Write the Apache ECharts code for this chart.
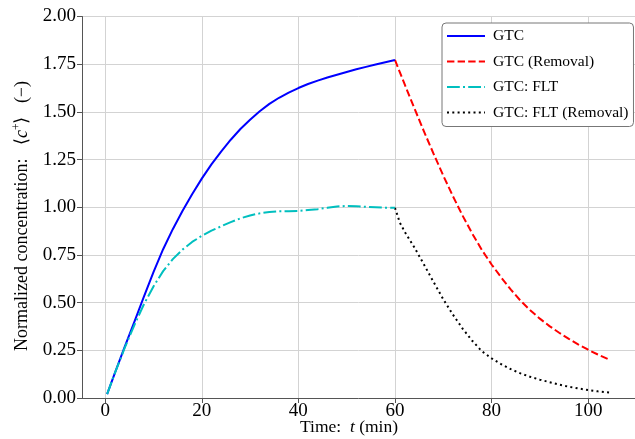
<!DOCTYPE html>
<html>
<head>
<meta charset="utf-8">
<script src="https://cdn.jsdelivr.net/npm/echarts@6/dist/echarts.min.js"></script>
<style>
  html, body { margin: 0; padding: 0; background: #fff; }
  #chart { width: 635px; height: 439px; }
</style>
</head>
<body>
<div id="chart"></div>
<script>
// Loading phase (0–60 min)
const tLoad = [0.4, 2, 4, 6, 8, 10, 12, 14, 16, 18, 20, 22, 24, 26, 28, 30, 32, 34, 36, 38, 40, 42, 44, 46, 48, 50, 52, 54, 56, 58, 60];
const gtc = [0.02, 0.13, 0.265, 0.397, 0.53, 0.66, 0.78, 0.885, 0.98, 1.068, 1.15, 1.225, 1.292, 1.354, 1.41, 1.459, 1.503, 1.542, 1.574, 1.601, 1.625, 1.646, 1.664, 1.68, 1.695, 1.709, 1.723, 1.736, 1.748, 1.76, 1.772];
const gtcFlt = [0.02, 0.13, 0.26, 0.38, 0.49, 0.585, 0.665, 0.728, 0.778, 0.818, 0.85, 0.877, 0.90, 0.922, 0.942, 0.957, 0.968, 0.975, 0.979, 0.979, 0.981, 0.985, 0.99, 0.997, 1.004, 1.007, 1.005, 1.002, 1.0, 0.998, 0.997];

// Removal phase (60–104.5 min)
const tRemoval = [60, 61, 62, 64, 66, 68, 70, 72, 74, 76, 78, 80, 82, 84, 86, 88, 90, 92, 94, 96, 98, 100, 102, 104.5];
const gtcRemoval = [1.772, 1.708, 1.645, 1.52, 1.398, 1.28, 1.166, 1.058, 0.956, 0.862, 0.776, 0.70, 0.632, 0.568, 0.51, 0.46, 0.416, 0.377, 0.342, 0.31, 0.28, 0.253, 0.228, 0.20];
const fltRemoval = [0.997, 0.92, 0.872, 0.79, 0.70, 0.608, 0.518, 0.437, 0.364, 0.30, 0.245, 0.208, 0.177, 0.151, 0.129, 0.111, 0.096, 0.083, 0.07, 0.059, 0.05, 0.042, 0.035, 0.028];

// Axis ticks
const xTicks = [0, 20, 40, 60, 80, 100];
const yTicks = [0, 0.25, 0.5, 0.75, 1.0, 1.25, 1.5, 1.75, 2.0];

const pairs = (xs, ys) => xs.map((x, i) => [x, ys[i]]);

const SERIF = '"Liberation Serif", "Times New Roman", serif';
const AXIS_COLOR = '#555';
const GRID_COLOR = '#d3d3d3';

const chart = echarts.init(document.getElementById('chart'), null, { renderer: 'canvas' });

const lineSeries = (name, xs, ys, color, dash, z) => ({
  name, type: 'line', symbol: 'none', showSymbol: false,
  data: pairs(xs, ys),
  lineStyle: { color, width: 2, type: dash, cap: 'butt', join: 'round' },
  itemStyle: { color },
  emphasis: { disabled: true },
  z
});

chart.setOption({
  animation: false,
  backgroundColor: '#fff',
  grid: { left: 82, right: 0, top: 16.5, bottom: 41, outerBoundsMode: 'none' },
  xAxis: {
    type: 'value',
    min: -4.8,
    max: 109.7,
    minInterval: 20,
    maxInterval: 20,
    axisLine: { onZero: false, lineStyle: { color: AXIS_COLOR, width: 1 } },
    axisTick: { show: true, length: 5, customValues: xTicks, lineStyle: { color: AXIS_COLOR } },
    axisLabel: {
      customValues: xTicks,
      margin: 4, color: '#000', fontFamily: SERIF, fontSize: 19
    },
    splitLine: { show: true, lineStyle: { color: GRID_COLOR, width: 1 } }
  },
  yAxis: {
    type: 'value',
    min: yTicks[0],
    max: yTicks[yTicks.length - 1],
    interval: 0.25,
    axisLine: { show: true, onZero: false, lineStyle: { color: AXIS_COLOR, width: 1 } },
    axisTick: { show: true, length: 5, lineStyle: { color: AXIS_COLOR } },
    axisLabel: {
      margin: 6, color: '#000', fontFamily: SERIF, fontSize: 19,
      formatter: v => v.toFixed(2)
    },
    splitLine: { show: true, lineStyle: { color: GRID_COLOR, width: 1 } }
  },
  legend: {
    orient: 'vertical',
    left: 442,
    top: 23,
    padding: [5, 5, 6, 4],
    itemWidth: 38,
    itemHeight: 14,
    itemGap: 9.5,
    backgroundColor: '#fff',
    borderColor: '#777',
    borderWidth: 1,
    borderRadius: 4,
    itemStyle: { opacity: 0 },
    textStyle: { fontFamily: SERIF, fontSize: 15.5, color: '#000', padding: [0, 0, 0, 3] },
    data: ['GTC', 'GTC (Removal)', 'GTC: FLT', 'GTC: FLT (Removal)']
  },
  graphic: [
    {
      type: 'text',
      x: 349, y: 427,
      style: {
        text: '{n|Time:  }{it|t}{n| (min)}',
        align: 'center', verticalAlign: 'middle',
        fill: '#000',
        rich: {
          n: { fontFamily: SERIF, fontSize: 17.5, fill: '#000' },
          it: { fontFamily: SERIF, fontSize: 17.5, fontStyle: 'italic', fill: '#000' }
        }
      }
    },
    {
      type: 'text',
      x: 21, y: 216,
      rotation: Math.PI / 2,
      style: {
        text: '{n|Normalized concentration:   ⟨}{it|c}{sup|+}{n|⟩   (−)}',
        align: 'center', verticalAlign: 'middle',
        fill: '#000',
        rich: {
          n: { fontFamily: SERIF, fontSize: 18, fill: '#000', verticalAlign: 'bottom' },
          it: { fontFamily: SERIF, fontSize: 18, fontStyle: 'italic', fill: '#000', verticalAlign: 'bottom' },
          sup: { fontFamily: SERIF, fontSize: 11.5, fill: '#000', verticalAlign: 'bottom', padding: [0, 0, 8, 0] }
        }
      }
    }
  ],
  series: [
    lineSeries('GTC', tLoad, gtc, '#0000ff', 'solid', 4),
    lineSeries('GTC (Removal)', tRemoval, gtcRemoval, '#ff0000', [7.4, 3.2], 3),
    lineSeries('GTC: FLT', tLoad, gtcFlt, '#00bfbf', [12.8, 3.2, 2, 3.2], 5),
    lineSeries('GTC: FLT (Removal)', tRemoval, fltRemoval, '#000000', [2, 3.3], 3)
  ]
});
</script>
</body>
</html>
